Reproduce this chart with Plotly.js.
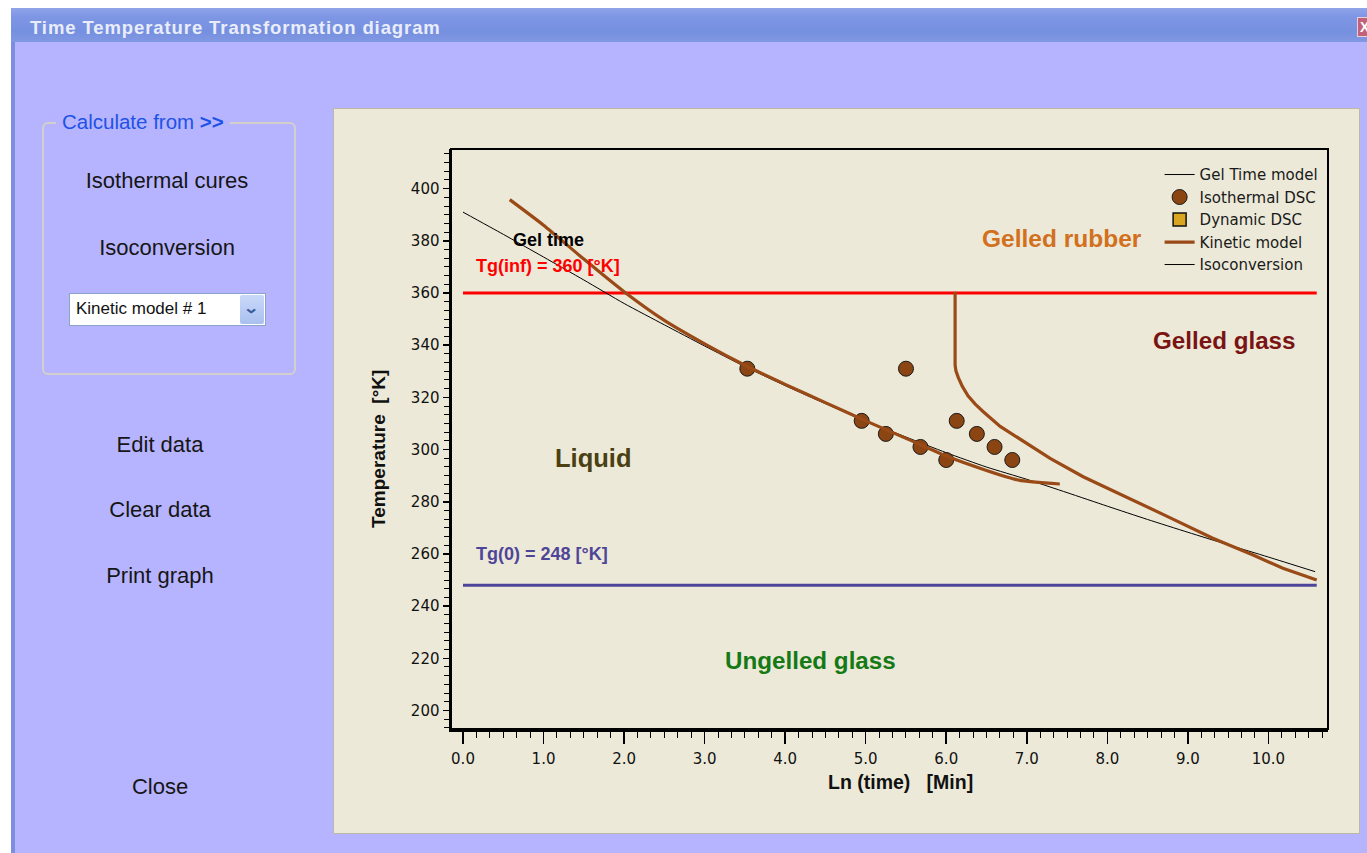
<!DOCTYPE html>
<html>
<head>
<meta charset="utf-8">
<script src="https://cdn.plot.ly/plotly-3.0.1.min.js"></script>
<style>
  html, body { margin:0; padding:0; }
  body { width:1367px; height:853px; overflow:hidden; background:#ffffff; position:relative; font-family:"Liberation Sans", Arial, sans-serif; }
  .abs { position:absolute; }
  .btn { position:absolute; font-size:22px; color:#161616; transform:translate(-50%,-50%); white-space:nowrap; }
</style>
</head>
<body>
<div class="abs" style="left:11px; top:8px; right:0; bottom:0; background:#B6B4FE;"></div>
<div class="abs" style="left:11px; top:8px; width:4px; bottom:0; background:#7D8EE2;"></div>
<div class="abs" style="left:11px; top:8px; right:0; height:34px; background:linear-gradient(to bottom,#8FA4EA 0%,#7E96E4 25%,#7690E0 70%,#8198E2 100%);"></div>
<div class="abs" style="left:30px; top:17px; font-family:'Liberation Sans',Arial,sans-serif; font-weight:bold; font-size:18.5px; letter-spacing:0.9px; color:#E9EDFA;">Time Temperature Transformation diagram</div>
<div class="abs" style="left:1357px; top:17px; width:14px; height:18px; background:#C2627A; border:1px solid #E8D0D8; color:#fff; font-weight:bold; font-size:14px; line-height:18px; text-indent:2px;">X</div>

<!-- group box -->
<div class="abs" style="left:42px; top:122px; width:250px; height:249px; border:2px solid #D3D0CB; border-radius:6px;"></div>
<div class="abs" style="left:56px; top:110px; padding:0 6px; background:#B6B4FE; color:#1D52E8; font-size:20.5px; white-space:nowrap;">Calculate from <b>&gt;&gt;</b></div>
<div class="btn" style="left:167px; top:181px;">Isothermal cures</div>
<div class="btn" style="left:167px; top:248px;">Isoconversion</div>
<div class="abs" style="left:69px; top:293px; width:197px; height:33px; background:#fff; border:1px solid #8AA3C8; box-sizing:border-box;"></div>
<div class="abs" style="left:76px; top:299px; font-size:17px; color:#111;">Kinetic model # 1</div>
<div class="abs" style="left:240px; top:295px; width:24px; height:29px; background:linear-gradient(to bottom,#C9D8F8,#A9C0F0); border-radius:2px;"></div>
<div class="abs" style="left:245px; top:299px; font-size:15px; color:#3A5A9A; font-weight:bold; transform:scaleX(1.3);">&#8964;</div>

<div class="btn" style="left:160px; top:445px;">Edit data</div>
<div class="btn" style="left:160px; top:510px;">Clear data</div>
<div class="btn" style="left:160px; top:576px;">Print graph</div>
<div class="btn" style="left:160px; top:787px;">Close</div>

<!-- chart panel -->
<div class="abs" style="left:333px; top:108px; width:1025px; height:724px; border:1px solid #BBB8AA; background:#ECE9D8;"></div>
<div id="chart" class="abs" style="left:335px; top:110px; width:1023px; height:722px;"></div>

<script>
// ---------- data ----------
const lnTimeGel = [0.0, 0.5, 1.0, 1.5, 2.0, 2.5, 3.0, 3.5, 4.0, 4.5, 5.0, 5.5, 6.0, 6.5, 7.0, 7.5, 8.0, 8.5, 9.0, 9.5, 10.0, 10.58];
const tempGel   = [391, 382.5, 373.8, 365, 356, 347.8, 339.7, 331.8, 324.5, 317.6, 311, 304.8, 298.8, 293.3, 288.6, 283.5, 278.3, 273.2, 268.3, 263.5, 258.8, 253.2];

const lnTimeDSC = [3.53, 4.95, 5.25, 5.68, 6.00, 5.50, 6.13, 6.38, 6.60, 6.82];
const tempDSC   = [331, 311, 306, 301, 296, 331, 311, 306, 301, 296];

// no dynamic DSC runs in this diagram (legend entry only)
const lnTimeDynamic = [null];
const tempDynamic   = [null];

const lnTimeKin1 = [0.58, 1.0, 1.5, 2.0, 2.5, 3.0, 3.5, 4.0, 4.5, 5.0, 5.5, 6.0, 6.5, 6.9, 7.41];
const tempKin1   = [395.8, 386, 373, 360.5, 349.5, 340.5, 332.3, 325, 318, 311, 304.3, 297.5, 292, 288.3, 286.8];

const lnTimeKin2 = [6.11, 6.11, 6.12, 6.15, 6.2, 6.27, 6.36, 6.46, 6.67, 6.96, 7.29, 7.70, 8.0, 8.32, 8.73, 9.31, 9.81, 10.18, 10.6];
const tempKin2   = [360.5, 332.4, 330.2, 327.6, 324.2, 320.6, 317.4, 314.5, 308.9, 303, 296.6, 289.6, 285.3, 280.7, 274.6, 266, 259.6, 254.5, 250];

// isoconversion curve not computed in this view (legend entry only)
const lnTimeIsoconv = [null];
const tempIsoconv   = [null];

const tgLineX = [0.0, 10.6];
const tgInf = 360;
const tg0 = 248;

const xTickVals = [0,1,2,3,4,5,6,7,8,9,10];
const yTickVals = [200,220,240,260,280,300,320,340,360,380,400];

const regionLabels = ["Gelled rubber", "Gelled glass", "Liquid", "Ungelled glass"];

// ---------- traces ----------
const brown = '#9A4A17';
const traces = [
  { x: tgLineX, y: tgLineX.map(() => tgInf), mode:'lines', line:{color:'#FF0000', width:3}, showlegend:false, hoverinfo:'skip' },
  { x: tgLineX, y: tgLineX.map(() => tg0), mode:'lines', line:{color:'#4F4598', width:3}, showlegend:false, hoverinfo:'skip' },
  { x: lnTimeGel, y: tempGel, mode:'lines', name:'Gel Time model', line:{color:'#000000', width:1, shape:'spline', smoothing:0.6} },
  { x: lnTimeDSC, y: tempDSC, mode:'markers', name:'Isothermal DSC', marker:{symbol:'circle', size:15, color:'#8B4513', line:{color:'#1a1a1a', width:1}} },
  { x: lnTimeDynamic, y: tempDynamic, mode:'markers', name:'Dynamic DSC', marker:{symbol:'square', size:13, color:'#DAA520', line:{color:'#111', width:1.5}} },
  { x: lnTimeKin1, y: tempKin1, mode:'lines', name:'Kinetic model', line:{color:brown, width:3.2, shape:'spline', smoothing:0.6}, legendgroup:'kin' },
  { x: lnTimeKin2, y: tempKin2, mode:'lines', name:'Kinetic model', line:{color:brown, width:3.2}, legendgroup:'kin', showlegend:false },
  { x: lnTimeIsoconv, y: tempIsoconv, mode:'lines', name:'Isoconversion', line:{color:'#000000', width:1} }
];

const tickFont = {family:'DejaVu Sans, sans-serif', size:15, color:'#111'};
const lbl = (text, x, y, color, size) => ({
  text:'<b>'+text+'</b>', x:x, y:y, xref:'x', yref:'y', showarrow:false,
  font:{family:'Liberation Sans, Arial, sans-serif', size:size, color:color}, xanchor:'center', yanchor:'middle'
});

const layout = {
  width:1023, height:722,
  margin:{l:116, r:30, t:39, b:103},
  paper_bgcolor:'#ECE9D8', plot_bgcolor:'#ECE9D8',
  showlegend:true,
  legend:{x:0.808, xanchor:'left', y:0.984, yanchor:'top', bgcolor:'rgba(0,0,0,0)', font:{family:'DejaVu Sans, sans-serif', size:15, color:'#1a1a1a'}, itemwidth:30, traceorder:'normal', tracegroupgap:0},
  xaxis:{
    range:[-0.149, 10.74], tickvals:xTickVals, tickformat:'.1f', ticks:'outside', ticklen:12, tickwidth:1.5, tickcolor:'#000',
    showline:true, linewidth:2.5, linecolor:'#000', showgrid:false, zeroline:false, tickfont:tickFont, ticklabelstandoff:2,
    minor:{dtick:1/6, tick0:0, ticks:'outside', ticklen:6, tickwidth:1, tickcolor:'#000', showgrid:false},
    fixedrange:true
  },
  xaxis2:{
    range:[-0.149, 10.74], overlaying:'x', anchor:'y', side:'bottom', tickvals:xTickVals, ticks:'inside', ticklen:8, tickwidth:1.5, tickcolor:'#000',
    showticklabels:false, showline:false, showgrid:false, zeroline:false, fixedrange:true
  },
  yaxis:{
    range:[192.9, 415.2], tickvals:yTickVals, ticks:'outside', ticklen:6, tickwidth:1.5, tickcolor:'#000',
    showline:true, linewidth:2.5, linecolor:'#000', showgrid:false, zeroline:false, tickfont:tickFont, ticklabelstandoff:0,
    minor:{dtick:20/6, tick0:200, ticks:'outside', ticklen:5, tickwidth:1, tickcolor:'#000', showgrid:false},
    fixedrange:true
  },
  yaxis2:{
    range:[192.9, 415.2], overlaying:'y', anchor:'x', side:'left', tickvals:yTickVals, ticks:'inside', ticklen:10, tickwidth:1.5, tickcolor:'#000',
    showticklabels:false, showline:false, showgrid:false, zeroline:false, fixedrange:true
  },
  shapes:[
    {type:'rect', xref:'paper', yref:'paper', x0:0, x1:1, y0:0, y1:1, line:{color:'#000', width:2}, fillcolor:'rgba(0,0,0,0)'}
  ],
  annotations:[
    lbl(regionLabels[0], 7.44, 381.0, '#D2701E', 24.5),
    lbl(regionLabels[1], 9.45, 341.9, '#7A1414', 24.2),
    lbl(regionLabels[2], 1.62, 296.7, '#4A4012', 25.5),
    lbl(regionLabels[3], 4.32, 219.0, '#157A15', 24.2),
    lbl('Gel time', 1.06, 380.2, '#000000', 18),
    lbl('Tg(inf) = 360 [°K]', 1.06, 370.3, '#FF0000', 18),
    lbl('Tg(0) = 248 [°K]', 0.98, 259.9, '#4F4598', 18),
    {text:'<b>Ln (time)\u00A0\u00A0\u00A0[Min]</b>', xref:'paper', yref:'paper', x:0.512, y:-0.0908, showarrow:false,
     font:{family:'Liberation Sans, Arial, sans-serif', size:19.5, color:'#111'}, xanchor:'center', yanchor:'middle'},
    {text:'<b>Temperature\u00A0\u00A0[°K]</b>', xref:'paper', yref:'paper', x:-0.0828, y:0.4836, textangle:-90, showarrow:false,
     font:{family:'Liberation Sans, Arial, sans-serif', size:19, color:'#111'}, xanchor:'center', yanchor:'middle'}
  ]
};

Plotly.newPlot('chart', traces, layout, {displayModeBar:false, staticPlot:true});
</script>
</body>
</html>
